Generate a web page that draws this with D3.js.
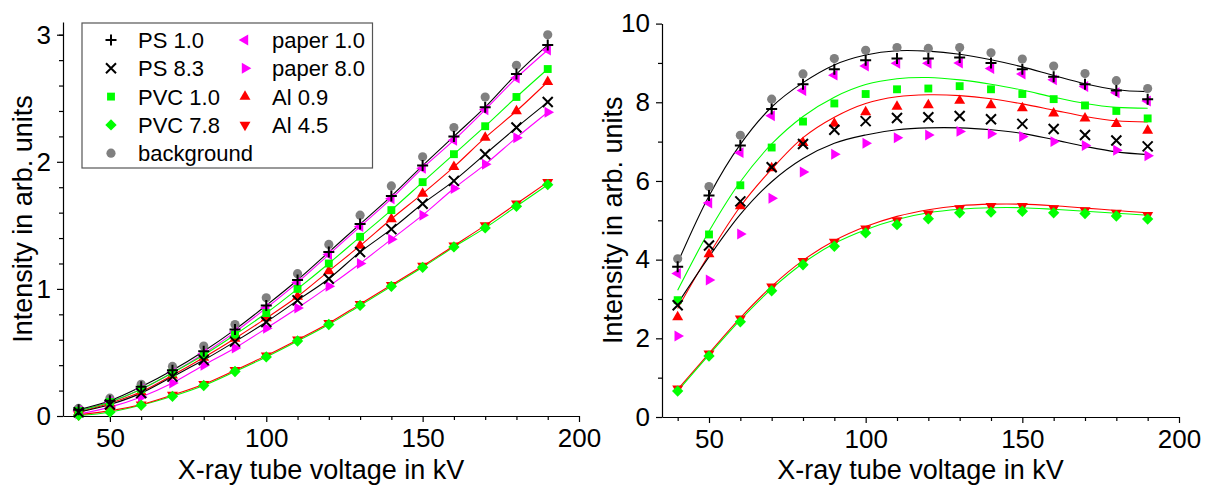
<!DOCTYPE html>
<html>
<head>
<meta charset="utf-8">
<script src="https://cdn.jsdelivr.net/npm/d3@7"></script>
<style>
body { margin: 0; background: #fff; }
text { font-family: "Liberation Sans", Arial, sans-serif; fill: #000; }
</style>
</head>
<body>
<div id="chart"></div>
<script>
const W = 1215, H = 487;

// tube voltages (kV)
var kv = [40, 50, 60, 70, 80, 90, 100, 110, 120, 130, 140, 150, 160, 170, 180, 190];

// left panel: intensity
var bgL      = [0.06, 0.14, 0.25, 0.39, 0.55, 0.72, 0.93, 1.12, 1.35, 1.58, 1.81, 2.04, 2.27, 2.51, 2.76, 3.00];
var ps10L    = [0.05, 0.12, 0.23, 0.36, 0.51, 0.68, 0.87, 1.07, 1.29, 1.51, 1.73, 1.97, 2.20, 2.43, 2.69, 2.92];
var paper10L = [0.04, 0.11, 0.21, 0.34, 0.49, 0.66, 0.85, 1.05, 1.27, 1.49, 1.71, 1.95, 2.17, 2.41, 2.66, 2.88];
var pvc10L   = [0.04, 0.11, 0.21, 0.34, 0.48, 0.64, 0.81, 1.00, 1.20, 1.41, 1.62, 1.84, 2.06, 2.28, 2.51, 2.73];
var al09L    = [0.03, 0.10, 0.19, 0.32, 0.46, 0.61, 0.77, 0.94, 1.14, 1.34, 1.55, 1.75, 1.96, 2.19, 2.40, 2.63];
var ps83L    = [0.03, 0.09, 0.18, 0.31, 0.44, 0.585, 0.74, 0.91, 1.08, 1.29, 1.47, 1.67, 1.85, 2.06, 2.27, 2.47];
var paper80L = [0.015, 0.07, 0.15, 0.26, 0.40, 0.535, 0.69, 0.85, 1.02, 1.20, 1.39, 1.58, 1.79, 1.98, 2.19, 2.39];
var al45L    = [0.01, 0.04, 0.09, 0.165, 0.25, 0.36, 0.475, 0.60, 0.73, 0.88, 1.03, 1.18, 1.34, 1.50, 1.67, 1.84];
var pvc78L   = [0.005, 0.03, 0.085, 0.155, 0.24, 0.35, 0.465, 0.59, 0.72, 0.87, 1.02, 1.17, 1.33, 1.48, 1.65, 1.82];

// right panel: intensity (normalised)
var bgR      = [4.02, 5.86, 7.16, 8.08, 8.72, 9.11, 9.32, 9.39, 9.37, 9.39, 9.26, 9.10, 8.92, 8.73, 8.55, 8.35];
var ps10R    = [3.82, 5.63, 6.90, 7.83, 8.46, 8.84, 9.07, 9.11, 9.11, 9.14, 9.00, 8.84, 8.65, 8.46, 8.30, 8.08];
var paper10R = [3.65, 5.44, 6.72, 7.66, 8.30, 8.69, 8.92, 8.99, 8.99, 9.00, 8.86, 8.72, 8.57, 8.40, 8.24, 8.03];
var pvc10R   = [2.97, 4.64, 5.89, 6.85, 7.51, 7.97, 8.21, 8.33, 8.35, 8.41, 8.33, 8.21, 8.08, 7.92, 7.78, 7.59];
var al09R    = [2.54, 4.14, 5.36, 6.33, 6.97, 7.46, 7.75, 7.89, 7.93, 8.04, 7.93, 7.85, 7.72, 7.59, 7.45, 7.28];
var ps83R    = [2.84, 4.36, 5.48, 6.35, 6.94, 7.30, 7.52, 7.60, 7.62, 7.65, 7.57, 7.45, 7.32, 7.17, 7.03, 6.88];
var paper80R = [2.06, 3.48, 4.65, 5.56, 6.23, 6.68, 6.96, 7.10, 7.17, 7.26, 7.20, 7.13, 7.00, 6.90, 6.78, 6.64];
var al45R    = [0.72, 1.61, 2.50, 3.31, 3.96, 4.45, 4.79, 5.00, 5.17, 5.30, 5.36, 5.36, 5.30, 5.25, 5.19, 5.13];
var pvc78R   = [0.66, 1.55, 2.42, 3.21, 3.87, 4.34, 4.68, 4.89, 5.04, 5.19, 5.21, 5.23, 5.19, 5.17, 5.11, 5.03];

var ps10FitR  = [3.92, 5.62, 6.93, 7.88, 8.50, 8.95, 9.20, 9.31, 9.30, 9.22, 9.08, 8.90, 8.68, 8.47, 8.32, 8.27];
var pvc10FitR = [3.22, 4.72, 5.98, 6.94, 7.64, 8.13, 8.45, 8.60, 8.63, 8.57, 8.46, 8.31, 8.13, 7.97, 7.87, 7.85];
var al09FitR  = [2.76, 4.13, 5.35, 6.30, 7.10, 7.62, 7.97, 8.14, 8.19, 8.17, 8.09, 7.96, 7.80, 7.64, 7.53, 7.50];
var ps83FitR  = [2.88, 4.07, 5.15, 5.98, 6.57, 6.96, 7.17, 7.30, 7.35, 7.35, 7.30, 7.21, 7.05, 6.88, 6.74, 6.67];
var al45FitR  = [0.70, 1.62, 2.52, 3.32, 3.98, 4.48, 4.84, 5.10, 5.27, 5.37, 5.41, 5.41, 5.37, 5.31, 5.25, 5.19];
var pvc78FitR = [0.66, 1.58, 2.47, 3.26, 3.91, 4.41, 4.76, 5.02, 5.19, 5.28, 5.32, 5.32, 5.28, 5.23, 5.18, 5.13];

var legendNames = ["PS 1.0", "PS 8.3", "PVC 1.0", "PVC 7.8", "background", "paper 1.0", "paper 8.0", "Al 0.9", "Al 4.5"];
var xTicksMajor = [50, 100, 150, 200];
var xTicksMinor = [40, 60, 70, 80, 90, 110, 120, 130, 140, 160, 170, 180, 190];
var yTicksLeft = [0, 1, 2, 3];
var yMinorLeft = [0.2, 0.4, 0.6, 0.8, 1.2, 1.4, 1.6, 1.8, 2.2, 2.4, 2.6, 2.8, 3.0];
var yTicksRight = [0, 2, 4, 6, 8, 10];
var yMinorRight = [1, 3, 5, 7, 9];

const GREEN = "#00ff00", MAGENTA = "#ff00ff", RED = "#ff0000", GRAY = "#808080";
const FONT_TICK = 26, FONT_TITLE = 27, FONT_LEGEND = 22;

const svg = d3.select("#chart").append("svg")
    .attr("width", W).attr("height", H)
    .style("background", "#fff");

// marker shapes
function markerPath(type) {
    switch (type) {
        case "plus": return "M-5.5,0H5.5M0,-5.5V5.5";
        case "times": return "M-5,-5L5,5M-5,5L5,-5";
        case "circle": return d3.symbol(d3.symbolCircle, 66)();
        case "square": return d3.symbol(d3.symbolSquare, 62)();
        case "diamond": return d3.symbol(d3.symbolSquare, 64)();
        default: return d3.symbol(d3.symbolTriangle, 52)();
    }
}
function markerRot(type) {
    return { diamond: 45, triDown: 180, triLeft: -90, triRight: 90 }[type] || 0;
}
function drawMarker(g, type, color, x, y) {
    var p = g.append("path")
        .attr("d", markerPath(type))
        .attr("transform", "translate(" + x + "," + y + ") rotate(" + markerRot(type) + ")");
    if (type === "plus" || type === "times") {
        p.attr("fill", "none").attr("stroke", color).attr("stroke-width", 2);
    } else {
        p.attr("fill", color).attr("stroke", "none");
    }
}

function drawPanel(opt) {
    var x = d3.scaleLinear().domain([35, 200]).range(opt.xRange);
    var y = d3.scaleLinear().domain(opt.yDomain).range(opt.yRange);
    var g = svg.append("g");

    // x axis
    g.append("g").attr("transform", "translate(0," + opt.yRange[0] + ")")
        .call(d3.axisBottom(x).tickValues(xTicksMinor).tickSize(4).tickSizeOuter(0).tickFormat(""))
        .call(a => a.select(".domain").remove());
    var xa = g.append("g").attr("transform", "translate(0," + opt.yRange[0] + ")")
        .call(d3.axisBottom(x).tickValues(xTicksMajor).tickSize(6).tickSizeOuter(0).tickPadding(7).tickFormat(d3.format("d")));
    xa.selectAll("text").attr("font-size", FONT_TICK).attr("font-family", null);

    // y axis
    g.append("g").attr("transform", "translate(" + opt.xRange[0] + ",0)")
        .call(d3.axisLeft(y).tickValues(opt.yMinor).tickSize(4).tickSizeOuter(0).tickFormat(""))
        .call(a => a.select(".domain").remove());
    var ya = g.append("g").attr("transform", "translate(" + opt.xRange[0] + ",0)")
        .call(d3.axisLeft(y).tickValues(opt.yTicks).tickSize(6).tickSizeOuter(0).tickPadding(6).tickFormat(d3.format("d")));
    ya.selectAll("text").attr("font-size", FONT_TICK).attr("font-family", null);
    g.selectAll(".domain, .tick line").attr("stroke", "#000").attr("stroke-width", 1.2);

    // titles
    g.append("text")
        .attr("x", (opt.xRange[0] + opt.xRange[1]) / 2).attr("y", 479)
        .attr("text-anchor", "middle").attr("font-size", FONT_TITLE)
        .text("X-ray tube voltage in kV");
    g.append("text")
        .attr("transform", "translate(" + opt.titleX + "," + ((opt.yRange[0] + opt.yRange[1]) / 2) + ") rotate(-90)")
        .attr("text-anchor", "middle").attr("font-size", FONT_TITLE)
        .text("Intensity in arb. units");

    // fit lines
    var line = d3.line()
        .x((d, i) => x(kv[i]))
        .y(d => y(d))
        .curve(d3.curveCatmullRom.alpha(0.5));
    opt.lines.forEach(function (l) {
        g.append("path").datum(l.values)
            .attr("d", line)
            .attr("fill", "none")
            .attr("stroke", l.color).attr("stroke-width", 1.1);
    });

    // markers
    opt.series.forEach(function (s) {
        var mg = g.append("g");
        s.values.forEach(function (v, i) {
            drawMarker(mg, s.type, s.color, x(kv[i]), y(v));
        });
    });
}

// left panel
drawPanel({
    xRange: [63, 579], yRange: [416, 22], yDomain: [0, 3.1],
    yTicks: yTicksLeft, yMinor: yMinorLeft,
    titleX: 32,
    lines: [
        { values: paper80L, color: MAGENTA },
        { values: paper10L, color: MAGENTA },
        { values: al09L, color: RED },
        { values: pvc10L, color: GREEN },
        { values: ps83L, color: "#000" },
        { values: pvc78L, color: GREEN },
        { values: al45L, color: RED },
        { values: ps10L, color: "#000" }
    ],
    series: [
        { values: bgL, type: "circle", color: GRAY },
        { values: paper80L, type: "triRight", color: MAGENTA },
        { values: paper10L, type: "triLeft", color: MAGENTA },
        { values: al09L, type: "triUp", color: RED },
        { values: al45L, type: "triDown", color: RED },
        { values: pvc10L, type: "square", color: GREEN },
        { values: pvc78L, type: "diamond", color: GREEN },
        { values: ps83L, type: "times", color: "#000" },
        { values: ps10L, type: "plus", color: "#000" }
    ]
});

// right panel
drawPanel({
    xRange: [662, 1179], yRange: [417, 23.6], yDomain: [0, 10],
    yTicks: yTicksRight, yMinor: yMinorRight,
    titleX: 622,
    lines: [
        { values: ps10FitR, color: "#000" },
        { values: pvc10FitR, color: GREEN },
        { values: al09FitR, color: RED },
        { values: ps83FitR, color: "#000" },
        { values: al45FitR, color: RED },
        { values: pvc78FitR, color: GREEN }
    ],
    series: [
        { values: bgR, type: "circle", color: GRAY },
        { values: paper80R, type: "triRight", color: MAGENTA },
        { values: paper10R, type: "triLeft", color: MAGENTA },
        { values: al09R, type: "triUp", color: RED },
        { values: al45R, type: "triDown", color: RED },
        { values: pvc10R, type: "square", color: GREEN },
        { values: pvc78R, type: "diamond", color: GREEN },
        { values: ps83R, type: "times", color: "#000" },
        { values: ps10R, type: "plus", color: "#000" }
    ]
});

// legend
var legendTypes = ["plus", "times", "square", "diamond", "circle", "triLeft", "triRight", "triUp", "triDown"];
var legendColors = ["#000", "#000", GREEN, GREEN, GRAY, MAGENTA, MAGENTA, RED, RED];
const leg = svg.append("g");
leg.append("rect")
    .attr("x", 82).attr("y", 23).attr("width", 290.5).attr("height", 145)
    .attr("fill", "#fff").attr("stroke", "#555").attr("stroke-width", 1.2);
legendNames.forEach(function (name, i) {
    var col = i < 5 ? 0 : 1;
    var row = i < 5 ? i : i - 5;
    var sx = col === 0 ? 111 : 245;
    var cy = 40 + row * 28.3;
    drawMarker(leg, legendTypes[i], legendColors[i], sx, cy);
    leg.append("text")
        .attr("x", sx + 27).attr("y", cy + 8)
        .attr("font-size", FONT_LEGEND)
        .text(name);
});
</script>
</body>
</html>
